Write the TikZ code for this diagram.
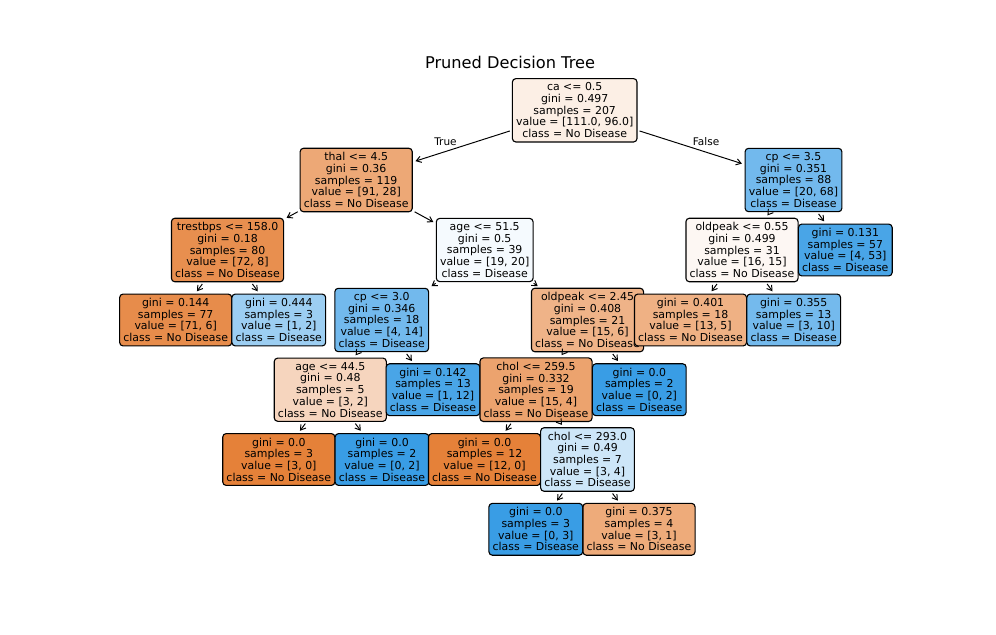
\documentclass[tikz,border=0pt]{standalone}
\usepackage{fontspec}
\setmainfont{DejaVu Sans}
\usepackage{xcolor}
\usepackage{tikz}
\usetikzlibrary{arrows.meta}

\definecolor{noclass}{HTML}{E58139}
\definecolor{yesclass}{HTML}{399DE5}

\begin{document}
\begin{tikzpicture}[
    x=0.01in, y=-0.01in,
    box/.style = {rectangle, rounded corners=2.5pt, draw=black, line width=0.8pt,
                  align=center, inner xsep=2.7pt, inner ysep=3pt,
                  font={\fontsize{7.9}{8.45}\selectfont}},
    arrow/.style = {-{Straight Barb[length=3.5pt,width=4.5pt]}, line width=0.7pt,
                    shorten <=1.5pt, shorten >=2pt},
    branch/.style = {font={\fontsize{7.6}{8.5}\selectfont}, inner sep=1pt}
]
\useasboundingbox (0,0) rectangle (996,634);

% Title
\node[font={\fontsize{11.7}{14}\selectfont}] (title) at (510,62) {Pruned Decision Tree};

% Root
\node[box, fill=noclass!13] (root) at (574.7,110.3)
    {ca <= 0.5\\gini = 0.497\\samples = 207\\value = [111.0, 96.0]\\class = No Disease};

% Left branch
\node[box, fill=noclass!69] (thal) at (356.2,180)
    {thal <= 4.5\\gini = 0.36\\samples = 119\\value = [91, 28]\\class = No Disease};
\node[box, fill=noclass!89] (trestbps) at (227.5,250)
    {trestbps <= 158.0\\gini = 0.18\\samples = 80\\value = [72, 8]\\class = No Disease};
\node[box, fill=noclass!91] (leafbpslow) at (175.7,320)
    {gini = 0.144\\samples = 77\\value = [71, 6]\\class = No Disease};
\node[box, fill=yesclass!50] (leafbpshigh) at (278.8,320)
    {gini = 0.444\\samples = 3\\value = [1, 2]\\class = Disease};
\node[box, fill=yesclass!5] (agehigh) at (484.7,250)
    {age <= 51.5\\gini = 0.5\\samples = 39\\value = [19, 20]\\class = Disease};
\node[box, fill=yesclass!71] (cplow) at (381.7,320)
    {cp <= 3.0\\gini = 0.346\\samples = 18\\value = [4, 14]\\class = Disease};
\node[box, fill=noclass!33] (agelow) at (330.3,389.7)
    {age <= 44.5\\gini = 0.48\\samples = 5\\value = [3, 2]\\class = No Disease};
\node[box, fill=noclass] (leafageyoung) at (278.8,459.5)
    {gini = 0.0\\samples = 3\\value = [3, 0]\\class = No Disease};
\node[box, fill=yesclass] (leafageold) at (382,459.5)
    {gini = 0.0\\samples = 2\\value = [0, 2]\\class = Disease};
\node[box, fill=yesclass!92] (leafcphigh) at (433,389.7)
    {gini = 0.142\\samples = 13\\value = [1, 12]\\class = Disease};
\node[box, fill=noclass!60] (oldpeakhigh) at (587.5,320)
    {oldpeak <= 2.45\\gini = 0.408\\samples = 21\\value = [15, 6]\\class = No Disease};
\node[box, fill=noclass!73] (chollow) at (536,389.7)
    {chol <= 259.5\\gini = 0.332\\samples = 19\\value = [15, 4]\\class = No Disease};
\node[box, fill=noclass] (leafchollow) at (484.5,459.5)
    {gini = 0.0\\samples = 12\\value = [12, 0]\\class = No Disease};
\node[box, fill=yesclass!25] (cholhigh) at (587.5,459.5)
    {chol <= 293.0\\gini = 0.49\\samples = 7\\value = [3, 4]\\class = Disease};
\node[box, fill=yesclass] (leafcholmid) at (535.8,529.3)
    {gini = 0.0\\samples = 3\\value = [0, 3]\\class = Disease};
\node[box, fill=noclass!67] (leafcholtop) at (639,529.3)
    {gini = 0.375\\samples = 4\\value = [3, 1]\\class = No Disease};
\node[box, fill=yesclass] (leafpeakhigh) at (639.3,389.7)
    {gini = 0.0\\samples = 2\\value = [0, 2]\\class = Disease};

% Right branch
\node[box, fill=yesclass!71] (cphigh) at (793.5,180)
    {cp <= 3.5\\gini = 0.351\\samples = 88\\value = [20, 68]\\class = Disease};
\node[box, fill=noclass!6] (oldpeaklow) at (742,250)
    {oldpeak <= 0.55\\gini = 0.499\\samples = 31\\value = [16, 15]\\class = No Disease};
\node[box, fill=noclass!62] (leafpeaklow) at (690.5,320)
    {gini = 0.401\\samples = 18\\value = [13, 5]\\class = No Disease};
\node[box, fill=yesclass!70] (leafpeakmid) at (793.7,320)
    {gini = 0.355\\samples = 13\\value = [3, 10]\\class = Disease};
\node[box, fill=yesclass!92] (leafcpfour) at (845.3,250)
    {gini = 0.131\\samples = 57\\value = [4, 53]\\class = Disease};

% Arrows
\draw[arrow] (root) -- node[branch, pos=0.67, above=3pt] {True} (thal);
\draw[arrow] (root) -- node[branch, pos=0.64, above=3pt] {False} (cphigh);
\draw[arrow] (thal) -- (trestbps);
\draw[arrow] (thal) -- (agehigh);
\draw[arrow] (trestbps) -- (leafbpslow);
\draw[arrow] (trestbps) -- (leafbpshigh);
\draw[arrow] (agehigh) -- (cplow);
\draw[arrow] (agehigh) -- (oldpeakhigh);
\draw[arrow] (cplow) -- (agelow);
\draw[arrow] (cplow) -- (leafcphigh);
\draw[arrow] (agelow) -- (leafageyoung);
\draw[arrow] (agelow) -- (leafageold);
\draw[arrow] (oldpeakhigh) -- (chollow);
\draw[arrow] (oldpeakhigh) -- (leafpeakhigh);
\draw[arrow] (chollow) -- (leafchollow);
\draw[arrow] (chollow) -- (cholhigh);
\draw[arrow] (cholhigh) -- (leafcholmid);
\draw[arrow] (cholhigh) -- (leafcholtop);
\draw[arrow] (cphigh) -- (oldpeaklow);
\draw[arrow] (cphigh) -- (leafcpfour);
\draw[arrow] (oldpeaklow) -- (leafpeaklow);
\draw[arrow] (oldpeaklow) -- (leafpeakmid);

\end{tikzpicture}
\end{document}
